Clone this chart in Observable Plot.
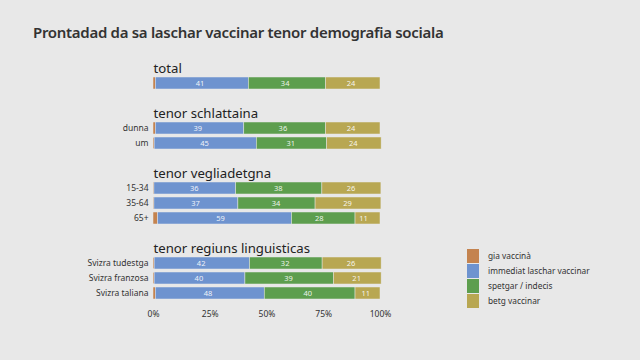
<!DOCTYPE html>
<html>
<head>
<meta charset="utf-8">
<script src="https://cdn.jsdelivr.net/npm/d3@7"></script>
<script src="https://cdn.jsdelivr.net/npm/@observablehq/plot@0.6"></script>
<style>
  html, body { margin: 0; padding: 0; background: #e8e8e8; width: 640px; height: 360px; overflow: hidden; font-family: "Noto Sans", "Open Sans", sans-serif; }
  #title { position: absolute; left: 33px; top: 22px; font-size: 15px; font-weight: 600; color: #333; letter-spacing: -0.3px; }
  #chart { position: absolute; left: 0; top: 50px; }
  #legend { position: absolute; left: 467px; top: 248px; font-size: 8.3px; color: #333; }
  .item { display: flex; align-items: center; height: 15px; }
  .sw { width: 12px; height: 14px; margin-right: 9px; }
</style>
</head>
<body>
<div id="title">Prontadad da sa laschar vaccinar tenor demografia sociala</div>
<div id="chart"></div>
<div id="legend"></div>
<script>
const categories = ["gia vaccinà", "immediat laschar vaccinar", "spetgar / indecis", "betg vaccinar"];
const colors = ["#c4834f", "#6e93cf", "#5d9e4e", "#b8a752"];
const groups = ["total", "tenor schlattaina", "tenor vegliadetgna", "tenor regiuns linguisticas"];
const rowLabels = ["", "dunna", "um", "15-34", "35-64", "65+", "Svizra tudestga", "Svizra franzosa", "Svizra taliana"];
const rowGroup = [0, 1, 1, 2, 2, 2, 3, 3, 3];
const giaVaccina = [1, 1, 0.5, 0.4, 0.4, 2, 0.5, 0.5, 1];
const immediat = [41, 39, 45, 36, 37, 59, 42, 40, 48];
const spetgar = [34, 36, 31, 38, 34, 28, 32, 39, 40];
const betg = [24, 24, 24, 26, 29, 11, 26, 21, 11];
const xTicks = [0, 25, 50, 75, 100];

const series = [giaVaccina, immediat, spetgar, betg];
const rowKey = i => "r" + i;

// band domain: heading row, bar rows, spacer row per group
const domain = [];
const labelOf = {};
groups.forEach((g, gi) => {
  domain.push("h" + gi); labelOf["h" + gi] = "";
  rowLabels.forEach((l, i) => { if (rowGroup[i] === gi) { domain.push(rowKey(i)); labelOf[rowKey(i)] = l; } });
  if (gi < groups.length - 1) { domain.push("s" + gi); labelOf["s" + gi] = ""; }
});

const data = [];
rowLabels.forEach((l, i) => {
  categories.forEach((c, ci) => data.push({row: rowKey(i), cat: c, value: series[ci][i], show: ci > 0}));
});
const headings = groups.map((g, gi) => ({key: "h" + gi, text: g}));

const chart = Plot.plot({
  width: 640,
  height: 279,
  marginLeft: 153,
  marginRight: 260,
  marginTop: 12,
  marginBottom: 22,
  style: {background: "transparent", fontFamily: "'Noto Sans', 'Open Sans', sans-serif", color: "#333"},
  x: {domain: [0, 100], ticks: xTicks, tickFormat: d => d + "%", tickSize: 0, tickPadding: 3, label: null, axis: "bottom"},
  y: {domain, paddingInner: 0.2, paddingOuter: 0, align: 0, tickSize: 0, tickPadding: 5, tickFormat: d => labelOf[d], label: null},
  color: {domain: categories, range: colors},
  marks: [
    Plot.barX(data, Plot.stackX({x: "value", y: "row", fill: "cat", z: "cat", order: categories, stroke: "#e8e8e8", strokeWidth: 0.5})),
    Plot.text(data.filter(d => d.show), Plot.stackX({x: "value", y: "row", z: "cat", order: categories.slice(1), text: d => String(d.value), fill: "white", fontSize: 7.5, fillOpacity: 0.9})),
    Plot.text(headings, {y: "key", text: "text", frameAnchor: "left", textAnchor: "start", fontSize: 13.2, fill: "#222"})
  ]
});
chart.querySelectorAll("[aria-label='x-axis tick label'] text, [aria-label='y-axis tick label'] text").forEach(t => t.setAttribute("font-size", 8.5));
document.getElementById("chart").appendChild(chart);

const legend = document.getElementById("legend");
categories.forEach((c, i) => {
  const div = document.createElement("div");
  div.className = "item";
  div.innerHTML = `<span class="sw" style="background:${colors[i]}"></span><span>${c}</span>`;
  legend.appendChild(div);
});
</script>
</body>
</html>
